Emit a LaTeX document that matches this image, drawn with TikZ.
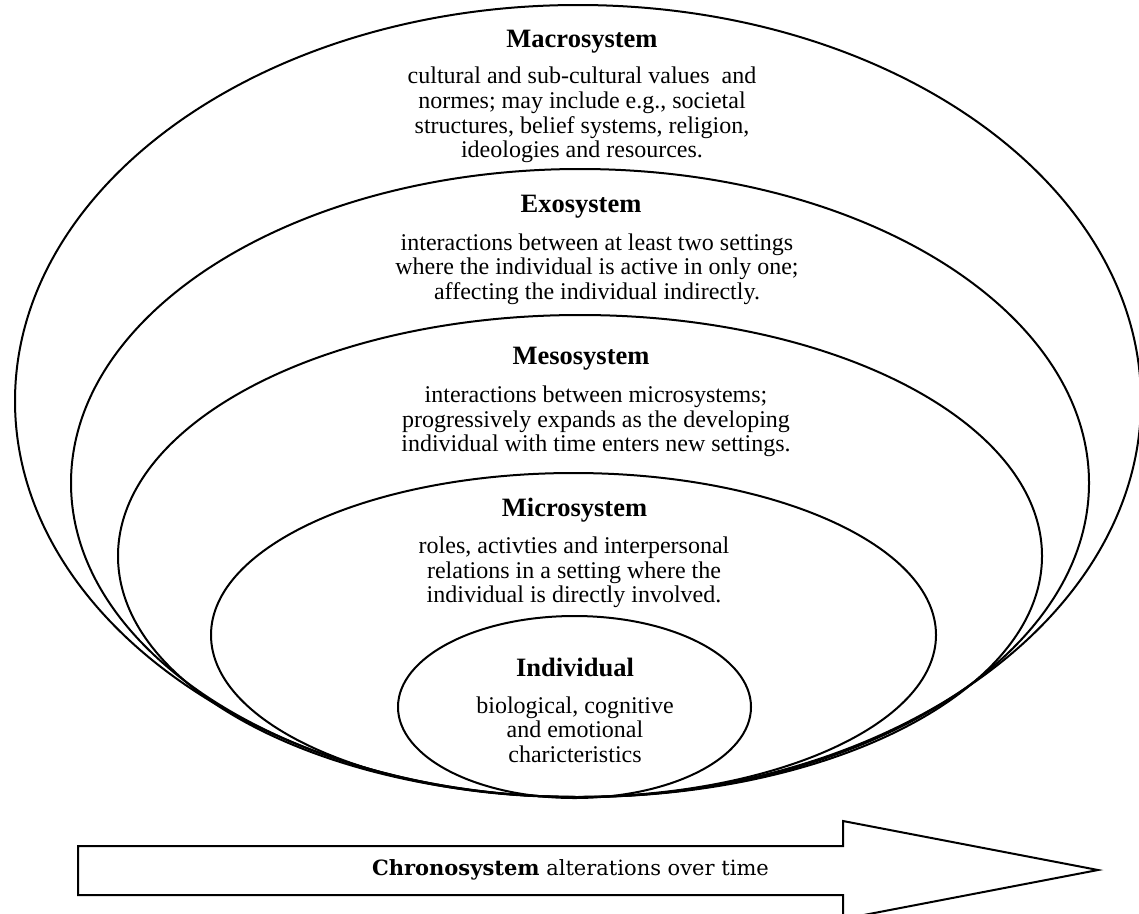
\documentclass[tikz,border=0pt]{standalone}
\usepackage{fontspec}
\setmainfont{Liberation Serif}
\newfontfamily\chronofont{DejaVu Serif}
\tikzset{
  ring/.style={draw=black, line width=2pt},
  ttl/.style={font=\fontsize{26.5}{28}\selectfont\bfseries, inner sep=0pt},
  body/.style={font=\fontsize{24}{24.7}\selectfont, align=center, inner sep=0pt},
  chrono/.style={draw=black, line width=2pt, line join=miter},
}
\begin{document}
\begin{tikzpicture}[x=1pt,y=-1pt]
\useasboundingbox (0,0) rectangle (1139,913);
% ellipses
\draw[ring] (578,401) ellipse [x radius=563, y radius=396];
\draw[ring] (580,483) ellipse [x radius=509, y radius=314];
\draw[ring] (580,556) ellipse [x radius=462, y radius=241];
\draw[ring] (573.5,635) ellipse [x radius=362.5, y radius=162];
\draw[ring] (574.5,707) ellipse [x radius=176.5, y radius=91];
% texts
\node[ttl] (macT) at (582,42) {Macrosystem};
\node[body] (macB) at (582,115) {cultural and sub-cultural values\ \ and\\normes; may include e.g., societal\\structures, belief systems, religion,\\ideologies and resources.};
\node[ttl] (exoT) at (581,207) {Exosystem};
\node[body] (exoB) at (597,269) {interactions between at least two settings\\where the individual is active in only one;\\affecting the individual indirectly.};
\node[ttl] (mesT) at (581,359) {Mesosystem};
\node[body] (mesB) at (596,421.5) {interactions between microsystems;\\progressively expands as the developing\\individual with time enters new settings.};
\node[ttl] (micT) at (574.5,510) {Microsystem};
\node[body] (micB) at (574,572.5) {roles, activties and interpersonal\\relations in a setting where the\\individual is directly involved.};
\node[ttl] (indT) at (575,667) {Individual};
\node[body] (indB) at (575,729.5) {biological, cognitive\\and emotional\\charicteristics};
% chronosystem arrow
\draw[chrono] (78,846) -- (843,846) -- (843,821) -- (1098,870) -- (843,919) -- (843,895) -- (78,895) -- cycle;
\node[inner sep=0pt, font=\chronofont\fontsize{21}{24}\selectfont] (chr) at (570.5,870) {\textbf{Chronosystem} alterations over time};
\end{tikzpicture}
\end{document}
